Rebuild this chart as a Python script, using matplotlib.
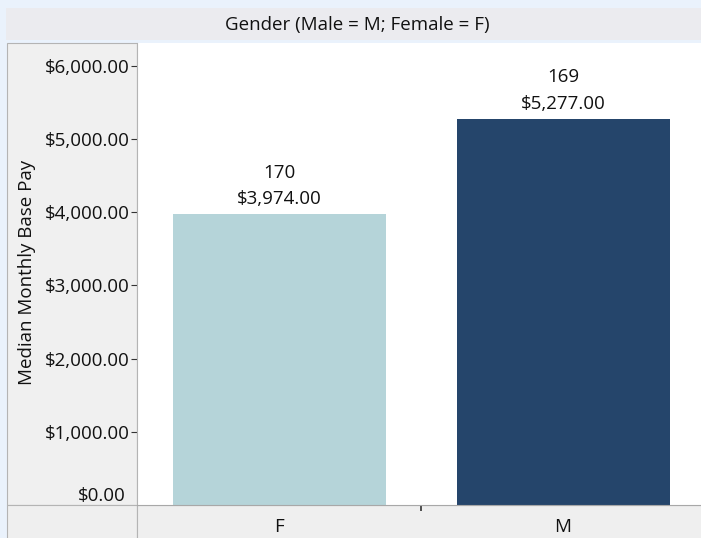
import matplotlib
matplotlib.use("Agg")
import matplotlib.pyplot as plt
from matplotlib.patches import Rectangle
from matplotlib.ticker import FuncFormatter

plt.rcParams["font.family"] = ["Open Sans", "DejaVu Sans"]

# data
genders = ["F", "M"]
median_pay = [3974.00, 5277.00]
counts = [170, 169]
bar_colors = ["#b5d4d9", "#25456b"]
y_ticks = [0, 1000, 2000, 3000, 4000, 5000, 6000]

W, H = 701, 538
FS = 13.5
fig = plt.figure(figsize=(W / 100, H / 100), dpi=100)
fig.patch.set_facecolor("#eaf2fc")


def px(x0, y0, x1, y1):
    # pixel box (top-left origin) -> figure fraction rect
    return [x0 / W, 1 - y1 / H, (x1 - x0) / W, (y1 - y0) / H]


def box(x0, y0, x1, y1, fc, ec="none", lw=1.0):
    r = px(x0, y0, x1, y1)
    fig.patches.append(Rectangle((r[0], r[1]), r[2], r[3], transform=fig.transFigure,
                                 facecolor=fc, edgecolor=ec, linewidth=lw, zorder=-10))


# header strip
box(6, 8, 701, 40, "#ebebef")
fig.text(357 / W, 1 - 25 / H, "Gender (Male = M; Female = F)", ha="center", va="center",
         fontsize=FS, color="#111111")
# left axis panel + bottom strip
box(7, 43, 137, 505, "#f0f0f0", ec="#b4b4b4", lw=0.8)
box(7, 505, 137, 540, "#efefef", ec="#b4b4b4", lw=0.8)
box(137, 505, 702, 540, "#efefef", ec="#b4b4b4", lw=0.8)

ax = fig.add_axes(px(137, 43, 701, 505))
ax.set_facecolor("white")
xs = range(len(genders))
bars = ax.bar(xs, median_pay, width=0.75, color=bar_colors, zorder=2)
for b, v, n in zip(bars, median_pay, counts):
    ax.text(b.get_x() + b.get_width() / 2, v + 80, f"{n}\n${v:,.2f}", ha="center", va="bottom",
            fontsize=FS, color="#111111", linespacing=1.6)

ax.set_xlim(-0.5, 1.485)
ax.set_ylim(0, 6311)
ax.set_yticks(y_ticks)
ax.yaxis.set_major_formatter(FuncFormatter(lambda v, p: f"${v:,.2f}"))
ax.tick_params(axis="y", direction="out", length=4, width=0.8, color="#333333",
               labelsize=FS, labelcolor="#111111", pad=1)
# JMP puts the zero label above the axis line with no tick
zero_tick = ax.yaxis.get_major_ticks()[0]
zero_tick.tick1line.set_visible(False)
zero_tick.label1.set_va("bottom")
zero_tick.label1.set_x(-0.008)

ax.set_xticks([0.5])
ax.set_xticklabels([""])
ax.tick_params(axis="x", direction="out", length=4, width=1.2, color="#333333")
for s in ax.spines.values():
    s.set_visible(False)
ax.spines["bottom"].set_visible(True)
ax.spines["bottom"].set_color("#a8a8a8")
ax.spines["left"].set_visible(True)
ax.spines["left"].set_color("#b4b4b4")
ax.spines["left"].set_linewidth(0.8)

# y label and category labels
fig.text(27 / W, 1 - 272 / H, "Median Monthly Base Pay", rotation=90, ha="center", va="center",
         fontsize=FS, color="#111111")
for i, g in enumerate(genders):
    xf = (137 + (i + 0.5) * 284) / W
    fig.text(xf, 1 - 527 / H, g, ha="center", va="center", fontsize=FS, color="#111111")

fig.savefig("out.png", dpi=100, facecolor=fig.get_facecolor())
